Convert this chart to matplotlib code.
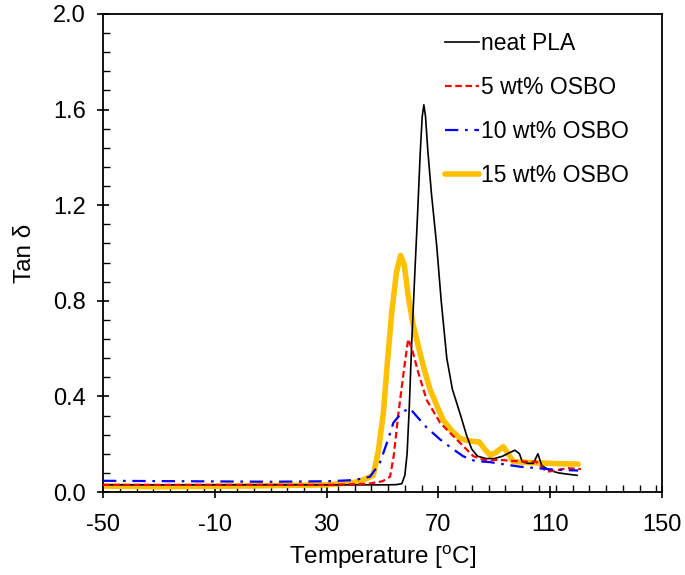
import matplotlib
matplotlib.use("Agg")
import matplotlib.pyplot as plt
from matplotlib.ticker import MultipleLocator, FixedLocator

plt.rcParams['font.family'] = ['Liberation Sans', 'DejaVu Sans']

# ---- data ----
labels = ["neat PLA", "5 wt% OSBO", "10 wt% OSBO", "15 wt% OSBO"]

t_pla = [-50, -20, 10, 30, 45, 52, 55, 56.9, 58, 58.8, 59.6, 60.4, 61.5, 62.5, 63.5,
         64.2, 64.8, 65.4, 66.2, 67.5, 69.4, 71, 73, 75, 77.7, 80, 81.9, 84, 87, 90,
         93, 95.5, 97.4, 99, 100, 102, 104, 105.6, 107, 110, 113, 116, 119.6]
v_pla = [0.03, 0.03, 0.03, 0.03, 0.03, 0.03, 0.031, 0.035, 0.07, 0.16, 0.36, 0.61,
         0.9, 1.15, 1.42, 1.57, 1.62, 1.57, 1.43, 1.25, 1.03, 0.8, 0.56, 0.43, 0.33,
         0.24, 0.18, 0.15, 0.14, 0.14, 0.15, 0.165, 0.175, 0.16, 0.127, 0.12, 0.12,
         0.16, 0.11, 0.09, 0.08, 0.075, 0.07]

t_5 = [-50, 0, 30, 45, 50, 52.7, 54, 55.7, 58, 59.2, 60.5, 62.8, 65.8, 70.6, 76.5,
       82.5, 86, 92, 97, 101.6, 105, 108.7, 112, 116, 121]
v_5 = [0.03, 0.03, 0.03, 0.035, 0.045, 0.064, 0.15, 0.33, 0.54, 0.64, 0.6, 0.5, 0.385,
       0.29, 0.22, 0.15, 0.135, 0.134, 0.13, 0.127, 0.127, 0.085, 0.09, 0.1, 0.096]

t_10 = [-50, -20, 10, 30, 40, 45.5, 49, 52, 53.9, 56, 58, 59.8, 62, 65.8, 70.6, 74,
        78.8, 83, 88.5, 94, 99.2, 105.2, 110, 115, 120]
v_10 = [0.047, 0.045, 0.043, 0.045, 0.05, 0.064, 0.12, 0.22, 0.29, 0.32, 0.34, 0.35,
        0.32, 0.27, 0.22, 0.19, 0.15, 0.13, 0.125, 0.115, 0.106, 0.1, 0.095, 0.092, 0.09]

t_15 = [-50, -30, 0, 30, 40, 44, 46.7, 48.5, 50.3, 51.8, 53.3, 55, 56.5, 57.8, 59.2,
        60.8, 62.8, 65, 67, 69.5, 71.8, 74.5, 77.7, 80.5, 83.7, 84.6, 86.5, 88.5, 90.5,
        93.2, 95, 96.8, 100, 105, 110, 115, 120]
v_15 = [0.025, 0.022, 0.025, 0.03, 0.04, 0.055, 0.07, 0.17, 0.33, 0.55, 0.75, 0.92,
        0.99, 0.95, 0.82, 0.71, 0.61, 0.51, 0.43, 0.36, 0.30, 0.26, 0.225, 0.215, 0.21,
        0.21, 0.18, 0.155, 0.165, 0.19, 0.16, 0.127, 0.125, 0.122, 0.12, 0.118, 0.117]

x_ticks = [-50, -10, 30, 70, 110, 150]
y_ticks = [0.0, 0.4, 0.8, 1.2, 1.6, 2.0]

# ---- figure ----
fig = plt.figure(figsize=(6.85, 5.75), dpi=100)
ax = fig.add_axes([0.1504, 0.1443, 0.8160, 0.8314])

ax.plot(t_pla, v_pla, color="black", lw=1.2, label=labels[0], zorder=3)
ax.plot(t_5, v_5, color="#FF0000", lw=1.6, ls=(0, (3, 1.6)), label=labels[1], zorder=4)
ax.plot(t_10, v_10, color="#0000FF", lw=1.6, ls=(0, (6, 3, 1.2, 3)), label=labels[2], zorder=4)
ax.plot(t_15, v_15, color="#FFC000", lw=4.0, label=labels[3], zorder=2,
        solid_capstyle="round", solid_joinstyle="round")

ax.set_xlim(-50, 150)
ax.set_ylim(0, 2.0)
ax.xaxis.set_major_locator(FixedLocator(x_ticks))
ax.yaxis.set_major_locator(FixedLocator(y_ticks))
ax.xaxis.set_minor_locator(FixedLocator([-50 + 6 * k for k in range(34)]))
ax.yaxis.set_minor_locator(MultipleLocator(0.08))
ax.set_yticklabels([f"{v:.1f}" for v in y_ticks])
ax.set_xticklabels([str(v) for v in x_ticks])

ax.tick_params(which="major", direction="inout", length=9, width=1.2,
               labelsize=17, pad=8, colors="black")
ax.tick_params(axis="x", which="major", pad=11)
ax.tick_params(which="minor", direction="in", length=5, width=1.0)
for s in ax.spines.values():
    s.set_linewidth(1.3)

ax.set_xlabel("Temperature [$\\mathregular{^o}$C]", fontsize=17.5, labelpad=6)
ax.set_ylabel("Tan δ", fontsize=17.5, labelpad=12)

ax.legend(loc="upper left", bbox_to_anchor=(0.596, 0.982), frameon=False,
          fontsize=16.5, handlelength=1.45, handletextpad=0.1, labelspacing=0.92,
          borderaxespad=0)

fig.savefig("out.png", dpi=100)
